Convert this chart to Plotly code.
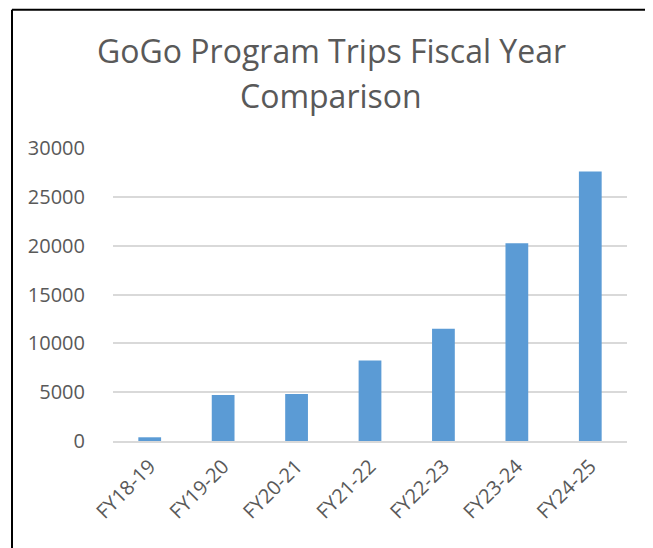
import plotly.graph_objects as go

categories = ["FY18-19", "FY19-20", "FY20-21", "FY21-22", "FY22-23", "FY23-24", "FY24-25"]
trips = [380, 4700, 4800, 8250, 11500, 20250, 27600]
y_ticks = [0, 5000, 10000, 15000, 20000, 25000, 30000]
title_lines = ["GoGo Program Trips Fiscal Year", "Comparison"]

# page is rendered with the browser's default 8px body margin -> figure coordinates = page - 8
OFF = 8
W, H = 653 - OFF, 548 - OFF
L, R, T, B = 113 - OFF, 26, 147.5 - OFF, 107
pw = W - L - R
ph = H - T - B

fig = go.Figure(go.Bar(x=categories, y=trips, marker=dict(color="#5B9BD5", line=dict(width=0)),
                       width=0.31))

text_color = "#595959"
font_family = "Open Sans"

fig.update_layout(
    width=W, height=H,
    margin=dict(l=L, r=R, t=T, b=B, pad=0),
    paper_bgcolor="white", plot_bgcolor="white",
    showlegend=False,
    xaxis=dict(tickangle=-45, tickfont=dict(family=font_family, size=20, color=text_color),
               showgrid=False, showline=True, linecolor="#D9D9D9", linewidth=1.5,
               ticks="outside", ticklen=4, tickcolor="rgba(0,0,0,0)"),
    yaxis=dict(range=[0, 30000], tickvals=y_ticks, ticktext=[str(v) for v in y_ticks],
               tickfont=dict(family=font_family, size=20, color=text_color),
               showgrid=True, gridcolor="#D9D9D9", gridwidth=1.5,
               zeroline=False, showline=False, ticks="outside", ticklen=23, tickcolor="rgba(0,0,0,0)"),
)

# two-line chart title
for line, ypage in zip(title_lines, [50, 95]):
    fig.add_annotation(text=line, xref="paper", yref="paper",
                       x=(331 - OFF - L) / pw, y=(H - B - (ypage - OFF)) / ph,
                       xanchor="center", yanchor="middle", showarrow=False,
                       font=dict(family=font_family, size=32, color=text_color))

# chart-area border (top and left edges visible in the crop)
x_left = (12 - OFF - L) / pw
y_top = (H - B - 1) / ph
fig.add_shape(type="line", xref="paper", yref="paper", x0=x_left, x1=(W + 5 - L) / pw, y0=y_top, y1=y_top,
              line=dict(color="black", width=2))
fig.add_shape(type="line", xref="paper", yref="paper", x0=x_left, x1=x_left, y0=y_top, y1=-(B + 5) / ph,
              line=dict(color="black", width=2))

fig.write_html("out.html")
